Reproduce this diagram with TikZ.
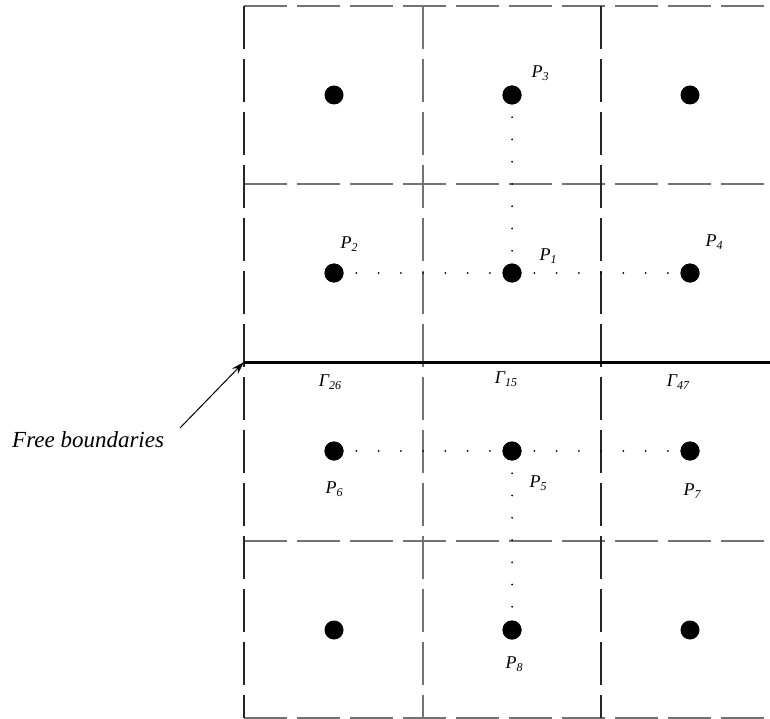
\documentclass[tikz,border=0pt]{standalone}
\usepackage{fontspec}
\setmainfont{Liberation Serif}
\newfontfamily\tms{Liberation Serif}
\usetikzlibrary{arrows.meta}
\newcommand\lab[2]{#1\raisebox{-0.4ex}{\fontsize{12}{12}\selectfont #2}}
\tikzset{
  gridline/.style={draw=black!55, line width=1.3pt, dash pattern=on 43pt off 10pt},
  gridlinedark/.style={draw=black!85, line width=1.3pt, dash pattern=on 43pt off 10pt},
  freeline/.style={draw=black, line width=3pt},
  dotpt/.style={circle, fill=black, inner sep=0pt, minimum size=19pt},
  dotline/.style={draw=black, line width=2pt, line cap=round, dash pattern=on 0pt off 22.25pt},
  lbl/.style={font=\tms\itshape\fontsize{18}{18}\selectfont, inner sep=0pt},
  big/.style={font=\tms\itshape\fontsize{23}{23}\selectfont, inner sep=0pt}
}
\begin{document}
\begin{tikzpicture}[x=1pt,y=-1pt]
\useasboundingbox (0,0) rectangle (770,719);
% grid
\draw[gridline] (244,6) -- (770,6);
\draw[gridline] (244,184) -- (770,184);
\draw[gridline] (244,541) -- (770,541);
\draw[gridline] (244,718) -- (770,718);
\draw[gridlinedark] (244,6) -- (244,718);
\draw[gridline] (423,6) -- (423,718);
\draw[gridlinedark] (601,6) -- (601,718);
\coordinate (fb) at (244,362);
\coordinate (fe) at (770,362);
\draw[freeline] (fb) -- (fe);
% points
\node[dotpt] (q1) at (334,95) {};
\node[dotpt] (p3) at (512,95) {};
\node[dotpt] (q2) at (690,95) {};
\node[dotpt] (p2) at (334,273) {};
\node[dotpt] (p1) at (512,273) {};
\node[dotpt] (p4) at (690,273) {};
\node[dotpt] (p6) at (334,451) {};
\node[dotpt] (p5) at (512,451) {};
\node[dotpt] (p7) at (690,451) {};
\node[dotpt] (q3) at (334,630) {};
\node[dotpt] (p8) at (512,630) {};
\node[dotpt] (q4) at (690,630) {};
% dotted connections
\draw[dotline] (p2.center) -- (p4.center);
\draw[dotline] (p3.center) -- (p1.center);
\draw[dotline] (p6.center) -- (p7.center);
\draw[dotline] (p5.center) -- (p8.center);
% redraw dots on top
\foreach \n in {p1,p2,p3,p4,p5,p6,p7,p8}{\fill (\n) circle (9.5pt);}
% labels
\node[lbl] (l3) at (540,73) {\lab{P}{3}};
\node[lbl] (l2) at (349,244) {\lab{P}{2}};
\node[lbl] (l1) at (548,256) {\lab{P}{1}};
\node[lbl] (l4) at (714,242) {\lab{P}{4}};
\node[lbl] (l6) at (334,489) {\lab{P}{6}};
\node[lbl] (l5) at (538,483) {\lab{P}{5}};
\node[lbl] (l7) at (692,491) {\lab{P}{7}};
\node[lbl] (l8) at (514,664) {\lab{P}{8}};
\node[lbl] (g26) at (330,382) {\lab{Γ}{26}};
\node[lbl] (g15) at (506,379) {\lab{Γ}{15}};
\node[lbl] (g47) at (678,382) {\lab{Γ}{47}};
% free boundaries
\node[big, anchor=west] (ft) at (12,440) {Free boundaries};
\coordinate (tail) at (180,428);
\draw[line width=1pt, -{Stealth[length=13pt,width=8pt]}] (tail) -- (fb);
\end{tikzpicture}
\end{document}
